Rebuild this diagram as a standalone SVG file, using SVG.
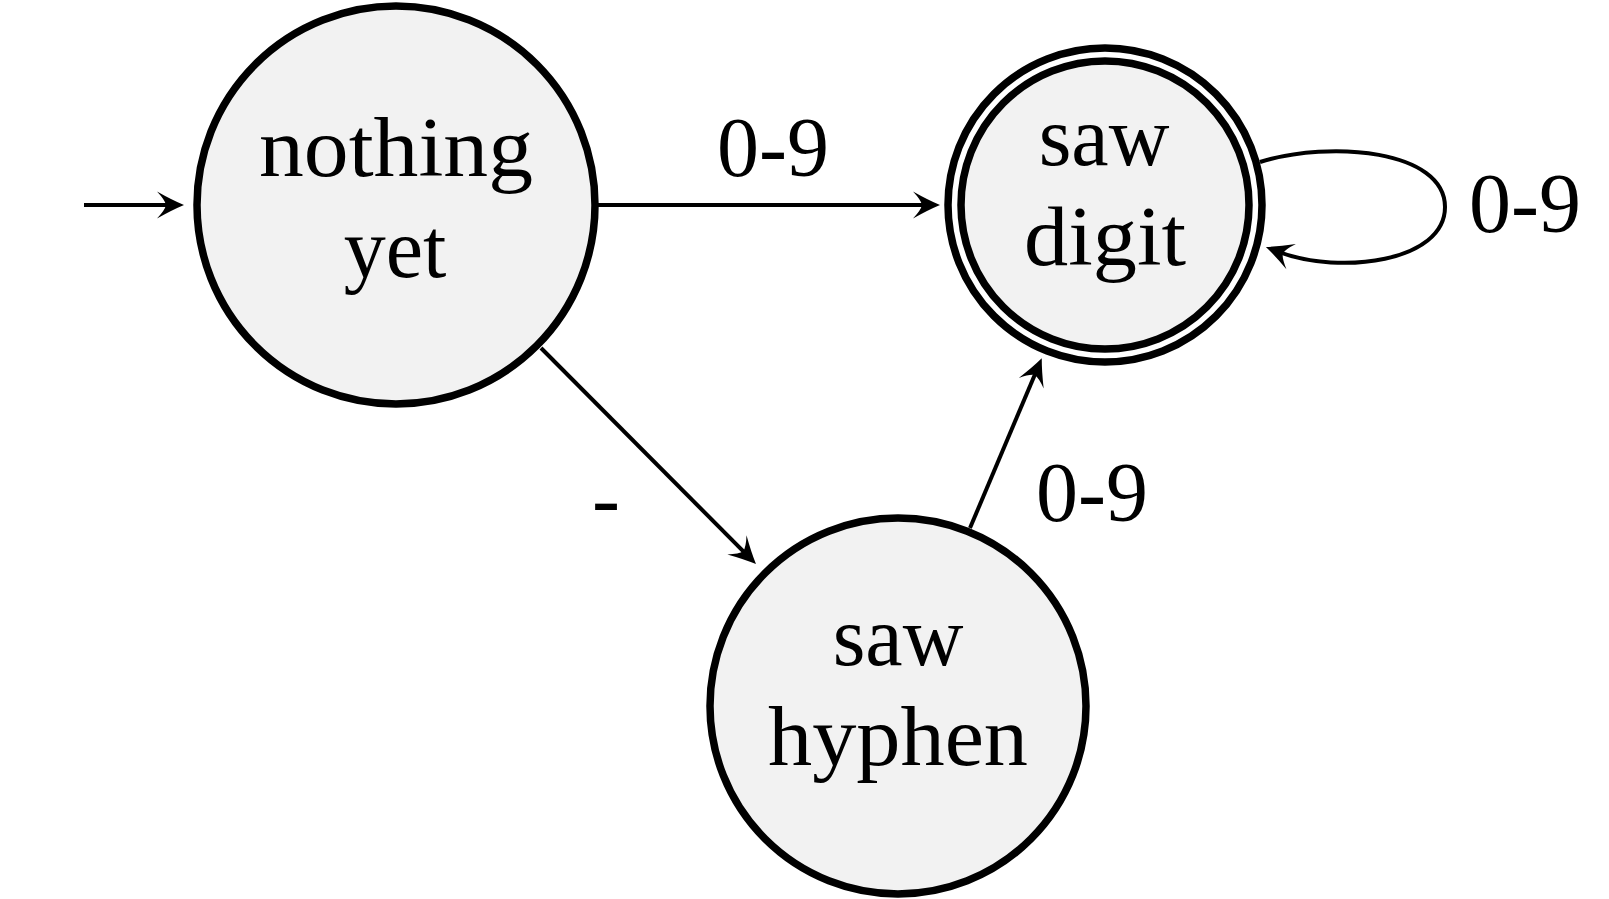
<svg xmlns="http://www.w3.org/2000/svg" width="1609" height="899" viewBox="0 0 1609 899">
<defs>
<style>
.node{fill:#f2f2f2;stroke:#000;stroke-width:7.5}
.ring{fill:#fff;stroke:#000;stroke-width:7.5}
.edge{fill:none;stroke:#000;stroke-width:4;marker-end:url(#arr)}
text{font-family:"Liberation Serif","Times New Roman",serif;font-size:84px;fill:#000;text-anchor:middle}
</style>
<marker id="arr" markerUnits="userSpaceOnUse" viewBox="-30 -16 32 32" markerWidth="32" markerHeight="32" refX="-14" refY="0" orient="auto" overflow="visible">
<path d="M0,0 Q-12,-5 -27,-13.5 Q-19,-5 -18,0 Q-19,5 -27,13.5 Q-12,5 0,0 Z" fill="#000"/>
</marker>
</defs>
<rect width="1609" height="899" fill="#fff"/>
<g id="connectors">
<line class="edge" x1="84" y1="205" x2="170" y2="205"/>
<line class="edge" x1="596" y1="205" x2="926" y2="205"/>
<line class="edge" x1="541" y1="348" x2="746.1" y2="554.1"/>
<line class="edge" x1="970" y1="528" x2="1036.3" y2="371.2"/>
<path class="edge" d="M1260,162 C1330,140 1445,150 1445,207 C1445,262 1340,275 1279,252"/>
<text x="773" y="176">0-9</text>
<text x="606" y="527">-</text>
<text x="1092" y="521">0-9</text>
<text x="1525" y="232">0-9</text>
</g>
<g id="nothing-yet">
<circle class="node" cx="396" cy="205" r="199"/>
<text x="396" y="176" textLength="274" lengthAdjust="spacingAndGlyphs">nothing</text>
<text x="395" y="277">yet</text>
</g>
<g id="saw-digit">
<circle class="ring" cx="1105" cy="205" r="157"/>
<circle class="node" cx="1105" cy="205" r="144"/>
<text x="1104" y="165">saw</text>
<text x="1105" y="265" textLength="162" lengthAdjust="spacingAndGlyphs">digit</text>
</g>
<g id="saw-hyphen">
<circle class="node" cx="898" cy="706" r="188"/>
<text x="898" y="665">saw</text>
<text x="898" y="765" textLength="260" lengthAdjust="spacingAndGlyphs">hyphen</text>
</g>
</svg>
